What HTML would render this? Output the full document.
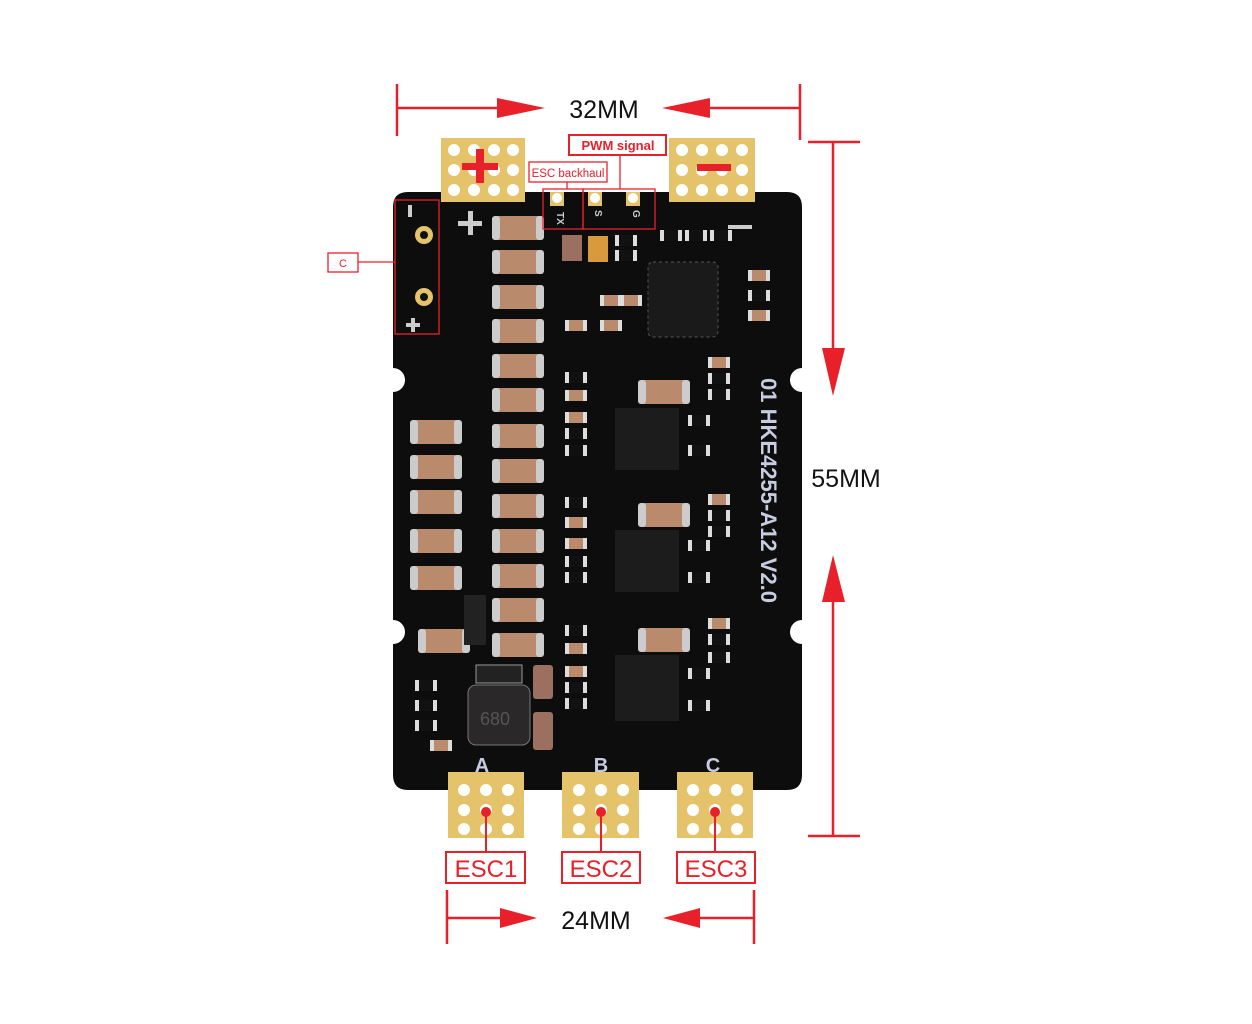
<!DOCTYPE html>
<html><head><meta charset="utf-8"><style>
html,body{margin:0;padding:0;background:#fff;}
svg{display:block}
text{font-family:"Liberation Sans",sans-serif}
</style></head><body>
<svg width="1252" height="1024" viewBox="0 0 1252 1024" xmlns="http://www.w3.org/2000/svg">
<defs>
<g id="cap"><rect x="0" y="0" width="52" height="24" rx="4" fill="#b98a6c"/><rect x="0" y="0" width="8" height="24" rx="3" fill="#ccc"/><rect x="44" y="0" width="8" height="24" rx="3" fill="#ccc"/></g>
<g id="sc"><rect x="0" y="0" width="22" height="11" rx="2" fill="#b98a6c"/><rect x="0" y="0" width="4" height="11" fill="#ddd"/><rect x="18" y="0" width="4" height="11" fill="#ddd"/></g>
<g id="res"><rect x="0" y="0" width="22" height="11" fill="#111"/><rect x="0" y="0" width="4" height="11" fill="#ddd"/><rect x="18" y="0" width="4" height="11" fill="#ddd"/></g>
<g id="h"><circle r="6" fill="#fff"/></g>
</defs>
<g fill="#e4c36a">
<rect x="441" y="138" width="84" height="64"/>
<rect x="669" y="138" width="86" height="64"/>
<rect x="448" y="776" width="76" height="62"/>
<rect x="562" y="776" width="77" height="62"/>
<rect x="677" y="776" width="76" height="62"/>
</g>
<path d="M408 192 H787 Q802 192 802 207 V368 A12 12 0 0 0 802 392 V620 A12 12 0 0 0 802 644 V775 Q802 790 787 790 H408 Q393 790 393 775 V644 A12 12 0 0 0 393 620 V392 A12 12 0 0 0 393 368 V207 Q393 192 408 192 Z" fill="#0d0d0d"/>
<rect x="441" y="190" width="84" height="12" fill="#e4c36a"/>
<rect x="669" y="190" width="86" height="12" fill="#e4c36a"/>
<rect x="448" y="772" width="76" height="20" fill="#e4c36a"/>
<rect x="562" y="772" width="77" height="20" fill="#e4c36a"/>
<rect x="677" y="772" width="76" height="20" fill="#e4c36a"/>
<g>
<use href="#h" x="454" y="150"/><use href="#h" x="474" y="150"/><use href="#h" x="494" y="150"/><use href="#h" x="513" y="150"/>
<use href="#h" x="454" y="170"/><use href="#h" x="474" y="170"/><use href="#h" x="494" y="170"/><use href="#h" x="513" y="170"/>
<use href="#h" x="454" y="190"/><use href="#h" x="474" y="190"/><use href="#h" x="494" y="190"/><use href="#h" x="513" y="190"/>
<use href="#h" x="682" y="150"/><use href="#h" x="702" y="150"/><use href="#h" x="722" y="150"/><use href="#h" x="742" y="150"/>
<use href="#h" x="682" y="170"/><use href="#h" x="702" y="170"/><use href="#h" x="722" y="170"/><use href="#h" x="742" y="170"/>
<use href="#h" x="682" y="190"/><use href="#h" x="702" y="190"/><use href="#h" x="722" y="190"/><use href="#h" x="742" y="190"/>
<use href="#h" x="464" y="790"/><use href="#h" x="486" y="790"/><use href="#h" x="508" y="790"/>
<use href="#h" x="464" y="810"/><use href="#h" x="486" y="810"/><use href="#h" x="508" y="810"/>
<use href="#h" x="464" y="829"/><use href="#h" x="486" y="829"/><use href="#h" x="508" y="829"/>
<use href="#h" x="579" y="790"/><use href="#h" x="601" y="790"/><use href="#h" x="623" y="790"/>
<use href="#h" x="579" y="810"/><use href="#h" x="601" y="810"/><use href="#h" x="623" y="810"/>
<use href="#h" x="579" y="829"/><use href="#h" x="601" y="829"/><use href="#h" x="623" y="829"/>
<use href="#h" x="693" y="790"/><use href="#h" x="715" y="790"/><use href="#h" x="737" y="790"/>
<use href="#h" x="693" y="810"/><use href="#h" x="715" y="810"/><use href="#h" x="737" y="810"/>
<use href="#h" x="693" y="829"/><use href="#h" x="715" y="829"/><use href="#h" x="737" y="829"/>
</g>
<rect x="462" y="163" width="36" height="7" fill="#e8202a"/><rect x="476" y="149" width="8" height="34" fill="#e8202a"/>
<rect x="697" y="164" width="34" height="7" fill="#e8202a"/>
<g fill="#e4c36a"><rect x="550" y="192" width="14" height="14"/><rect x="588" y="192" width="14" height="14"/><rect x="626" y="192" width="14" height="14"/></g>
<g fill="#fff"><circle cx="557" cy="198" r="5"/><circle cx="595" cy="198" r="5"/><circle cx="633" cy="198" r="5"/></g>
<g fill="#ccc" font-size="10" font-weight="bold">
<text x="553" y="216" transform="rotate(90 557 216)">TX</text>
<text x="591" y="214" transform="rotate(90 595 214)">S</text>
<text x="629" y="214" transform="rotate(90 633 214)">G</text>
</g>
<circle cx="424" cy="235" r="9" fill="#e4c36a"/><circle cx="424" cy="235" r="4" fill="#111"/>
<circle cx="424" cy="297" r="9" fill="#e4c36a"/><circle cx="424" cy="297" r="4" fill="#111"/>
<rect x="408" y="205" width="4" height="12" fill="#ccc"/>
<rect x="406" y="323" width="14" height="4" fill="#ccc"/><rect x="411" y="318" width="4" height="14" fill="#ccc"/>
<rect x="458" y="221" width="24" height="5" fill="#ccc"/><rect x="468" y="211" width="5" height="24" fill="#ccc"/>
<rect x="728" y="225" width="24" height="4" fill="#ccc"/>
<g>
<use href="#cap" x="492" y="216"/><use href="#cap" x="492" y="250"/><use href="#cap" x="492" y="285"/><use href="#cap" x="492" y="319"/><use href="#cap" x="492" y="354"/><use href="#cap" x="492" y="388"/><use href="#cap" x="492" y="424"/><use href="#cap" x="492" y="459"/><use href="#cap" x="492" y="494"/><use href="#cap" x="492" y="529"/><use href="#cap" x="492" y="564"/><use href="#cap" x="492" y="598"/><use href="#cap" x="492" y="633"/>
<use href="#cap" x="410" y="420"/><use href="#cap" x="410" y="455"/><use href="#cap" x="410" y="490"/><use href="#cap" x="410" y="529"/><use href="#cap" x="410" y="566"/><use href="#cap" x="418" y="629"/>
<use href="#cap" x="638" y="380"/><use href="#cap" x="638" y="503"/><use href="#cap" x="638" y="628"/>
</g>
<rect x="464" y="595" width="22" height="50" fill="#222"/>
<rect x="533" y="665" width="20" height="34" rx="3" fill="#9c7060"/><rect x="533" y="712" width="20" height="38" rx="3" fill="#9c7060"/>
<rect x="588" y="236" width="20" height="26" fill="#d89a3c"/><rect x="562" y="235" width="20" height="26" fill="#9c7060"/>
<rect x="648" y="262" width="70" height="75" rx="5" fill="#1a1a1a" stroke="#555" stroke-dasharray="3 3"/>
<rect x="615" y="408" width="64" height="62" fill="#1c1c1c"/>
<rect x="615" y="530" width="64" height="62" fill="#1c1c1c"/>
<rect x="615" y="655" width="64" height="66" fill="#1c1c1c"/>
<rect x="468" y="685" width="62" height="60" rx="8" fill="#2a2828" stroke="#777"/>
<text x="480" y="725" font-size="18" fill="#555">680</text>
<rect x="476" y="665" width="46" height="18" fill="#222" stroke="#999"/>
<g>
<use href="#res" x="565" y="372"/><use href="#sc" x="565" y="390"/><use href="#sc" x="565" y="412"/><use href="#res" x="565" y="428"/><use href="#res" x="565" y="445"/>
<use href="#res" x="565" y="497"/><use href="#sc" x="565" y="517"/><use href="#sc" x="565" y="538"/><use href="#res" x="565" y="556"/><use href="#res" x="565" y="572"/>
<use href="#res" x="565" y="625"/><use href="#sc" x="565" y="643"/><use href="#sc" x="565" y="666"/><use href="#res" x="565" y="682"/><use href="#res" x="565" y="698"/>
<use href="#sc" x="708" y="357"/><use href="#res" x="708" y="373"/><use href="#res" x="708" y="389"/><use href="#sc" x="708" y="494"/><use href="#res" x="708" y="510"/><use href="#res" x="708" y="526"/>
<use href="#sc" x="708" y="618"/><use href="#res" x="708" y="634"/><use href="#res" x="708" y="652"/>
<use href="#res" x="688" y="415"/><use href="#res" x="688" y="445"/><use href="#res" x="688" y="540"/><use href="#res" x="688" y="572"/><use href="#res" x="688" y="668"/><use href="#res" x="688" y="700"/>
<use href="#res" x="615" y="235"/><use href="#res" x="615" y="250"/><use href="#res" x="660" y="230"/><use href="#res" x="685" y="230"/><use href="#res" x="710" y="230"/>
<use href="#sc" x="600" y="295"/><use href="#sc" x="620" y="295"/><use href="#sc" x="600" y="320"/><use href="#sc" x="565" y="320"/>
<use href="#res" x="415" y="680"/><use href="#res" x="415" y="700"/><use href="#res" x="415" y="720"/><use href="#sc" x="430" y="740"/>
<use href="#sc" x="748" y="270"/><use href="#res" x="748" y="290"/><use href="#sc" x="748" y="310"/>
</g>
<text transform="translate(761 378) rotate(90)" font-size="22" font-weight="bold" fill="#c8cce0">01 HKE4255-A12 V2.0</text>
<g fill="#c8cce0" font-size="20" font-weight="bold" text-anchor="middle">
<text x="482" y="772">A</text><text x="601" y="772">B</text><text x="713" y="772">C</text>
</g>
<g fill="none" stroke="#e8202a" stroke-width="1.3">
<rect x="395" y="200" width="44" height="134"/>
<rect x="328" y="253" width="30" height="19" fill="#fff"/>
<line x1="358" y1="262" x2="395" y2="262"/>
<rect x="529" y="162" width="78" height="20"/>
<rect x="569" y="135" width="97" height="20" stroke-width="2"/>
<rect x="543" y="189" width="40" height="40"/>
<rect x="583" y="189" width="72" height="40"/>
<line x1="567" y1="182" x2="567" y2="189"/>
<line x1="620" y1="155" x2="620" y2="189"/>
</g>
<text x="343" y="267" font-size="11" fill="#e8202a" text-anchor="middle">C</text>
<text x="568" y="177" font-size="11.5" fill="#e8202a" text-anchor="middle">ESC backhaul</text>
<text x="618" y="150" font-size="13" font-weight="bold" fill="#e8202a" text-anchor="middle">PWM signal</text>
<g stroke="#e8202a" stroke-width="2" fill="none">
<line x1="486" y1="810" x2="486" y2="852"/><line x1="601" y1="810" x2="601" y2="852"/><line x1="715" y1="810" x2="715" y2="852"/>
<rect x="446" y="852" width="79" height="31" fill="#fff"/><rect x="562" y="852" width="78" height="31" fill="#fff"/><rect x="677" y="852" width="78" height="31" fill="#fff"/>
</g>
<g fill="#e8202a"><circle cx="486" cy="812" r="5"/><circle cx="601" cy="812" r="5"/><circle cx="715" cy="812" r="5"/></g>
<g fill="#e8202a" font-size="24" text-anchor="middle">
<text x="486" y="877">ESC1</text><text x="601" y="877">ESC2</text><text x="716" y="877">ESC3</text>
</g>
<g stroke="#e8202a" stroke-width="2.5">
<line x1="397" y1="84" x2="397" y2="136"/><line x1="800" y1="84" x2="800" y2="140"/>
<line x1="397" y1="108" x2="510" y2="108"/><line x1="700" y1="108" x2="800" y2="108"/>
<line x1="808" y1="142" x2="860" y2="142"/><line x1="808" y1="836" x2="860" y2="836"/>
<line x1="833" y1="142" x2="833" y2="355"/><line x1="833" y1="595" x2="833" y2="836"/>
<line x1="447" y1="890" x2="447" y2="944"/><line x1="754" y1="890" x2="754" y2="944"/>
<line x1="447" y1="918" x2="505" y2="918"/><line x1="700" y1="918" x2="754" y2="918"/>
</g>
<g fill="#e8202a">
<polygon points="497,98 545,108 497,118"/><polygon points="710,98 662,108 710,118"/>
<polygon points="822,348 845,348 833,396"/><polygon points="822,602 845,602 833,555"/>
<polygon points="500,908 537,918 500,928"/><polygon points="700,908 663,918 700,928"/>
</g>
<g fill="#111" font-size="25" text-anchor="middle">
<text x="604" y="118">32MM</text>
<text x="846" y="487">55MM</text>
<text x="596" y="929">24MM</text>
</g>
</svg>
</body></html>
